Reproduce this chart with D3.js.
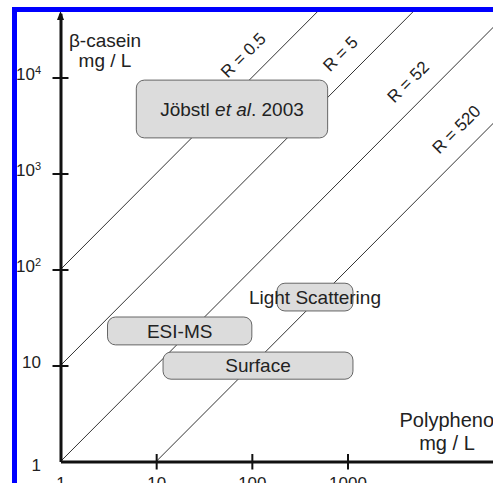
<!DOCTYPE html>
<html>
<head>
<meta charset="utf-8">
<script src="https://cdn.jsdelivr.net/npm/d3@7"></script>
<style>
  html, body { margin: 0; padding: 0; background: #fff; }
  svg { display: block; font-family: "Liberation Sans", Arial, Helvetica, sans-serif; }
</style>
</head>
<body>
<svg id="chart" width="493" height="483"></svg>
<script>
// ---- data ----
const polyTicks = [1, 10, 100, 1000];
const caseinTicks = [1, 10, 100, 1000, 10000];
const ratioLabels = ["R = 0.5", "R = 5", "R = 52", "R = 520"];
const caseinAtUnitPoly = [100, 10, 1, 0.1];      // casein (mg/L) where polyphenol = 1 mg/L
const ratioLabelPoly = [118, 1220, 6230, 19900];  // polyphenol value where each R label sits
const methods = ["Jöbstl et al. 2003", "ESI-MS", "Surface", "Light Scattering"];
const methodPolyMin = [6.2, 3.1, 11.8, 183];
const methodPolyMax = [620, 100, 1140, 1140];
const methodCaseinMin = [2350, 16.4, 7.2, 37];
const methodCaseinMax = [9400, 32, 13.8, 72];
const xTitle = ["Polyphenol", "mg / L"];
const yTitle = ["β-casein", "mg / L"];

// ---- layout ----
const svg = d3.select("#chart");
const x = d3.scaleLog().domain([1, Math.pow(10, 4.55)]).range([60.5, 495.8]);
const y = d3.scaleLog().domain([1, Math.pow(10, 4.67)]).range([461.5, 13.2]);
const lineColor = "#333";
const textColor = "#222";

svg.append("defs").append("clipPath").attr("id", "plotclip")
  .append("rect").attr("x", x(1)).attr("y", 12).attr("width", 493 - x(1)).attr("height", y(1) - 12);

// ratio lines
const ratioG = svg.append("g").attr("clip-path", "url(#plotclip)");
caseinAtUnitPoly.forEach((k, i) => {
  const x0 = k >= 1 ? 1 : 1 / k;
  const x1 = 1e6;
  ratioG.append("line")
    .attr("x1", x(x0)).attr("y1", y(k * x0))
    .attr("x2", x(x1)).attr("y2", y(k * x1))
    .attr("stroke", lineColor).attr("stroke-width", 1);
});

// ratio labels
ratioLabels.forEach((lab, i) => {
  const px = x(ratioLabelPoly[i]);
  const py = y(ratioLabelPoly[i] * caseinAtUnitPoly[i]);
  const off = 22 / Math.SQRT2;
  svg.append("text")
    .attr("transform", `translate(${px - off},${py - off}) rotate(-45)`)
    .attr("text-anchor", "middle")
    .attr("y", 6)
    .attr("font-size", 17)
    .attr("fill", textColor)
    .text(lab);
});

// method boxes
const fs = 19;
methods.forEach((m, i) => {
  const bx0 = x(methodPolyMin[i]), bx1 = x(methodPolyMax[i]);
  const by0 = y(methodCaseinMax[i]), by1 = y(methodCaseinMin[i]);
  svg.append("rect")
    .attr("x", bx0).attr("y", by0)
    .attr("width", bx1 - bx0).attr("height", by1 - by0)
    .attr("rx", 8).attr("ry", 8)
    .attr("fill", "#dcdcdc").attr("stroke", "#666").attr("stroke-width", 1);
  const t = svg.append("text")
    .attr("x", (bx0 + bx1) / 2)
    .attr("y", (by0 + by1) / 2 + 0.36 * fs)
    .attr("text-anchor", "middle")
    .attr("font-size", fs)
    .attr("fill", textColor);
  const idx = m.indexOf("et al.");
  if (idx >= 0) {
    t.append("tspan").text(m.slice(0, idx));
    t.append("tspan").attr("font-style", "italic").text("et al");
    t.append("tspan").text(m.slice(idx + 5));
  } else {
    t.text(m);
  }
});

// axes
const tfs = 17;
const gx = svg.append("g").attr("transform", `translate(0,${y(1)})`)
  .call(d3.axisBottom(x).tickValues(polyTicks).tickSize(0).tickSizeOuter(0).tickFormat(d3.format("d")));
gx.select(".domain").attr("stroke", "#111").attr("stroke-width", 3);
gx.selectAll(".tick line").attr("stroke", "#111").attr("stroke-width", 2)
  .attr("y1", -7.5).attr("y2", 8).attr("display", d => d === 1 ? "none" : null);
gx.selectAll(".tick text").attr("y", 27.5).attr("dy", null)
  .attr("font-size", tfs).attr("font-family", null).attr("fill", textColor);

const gy = svg.append("g").attr("transform", `translate(${x(1)},0)`)
  .call(d3.axisLeft(y).tickValues(caseinTicks).tickSize(0).tickSizeOuter(0));
gy.select(".domain").attr("stroke", "#111").attr("stroke-width", 3);
gy.selectAll(".tick line").attr("stroke", "#111").attr("stroke-width", 2)
  .attr("x1", -8).attr("x2", 8).attr("display", d => d === 1 ? "none" : null);
gy.selectAll(".tick text").each(function(d) {
  const t = d3.select(this);
  t.text(null).attr("dy", null).attr("x", -19.5)
    .attr("y", (d === 1 ? 3 : -4.5) + 0.36 * tfs)
    .attr("text-anchor", "end").attr("font-size", tfs).attr("font-family", null).attr("fill", textColor);
  const e = Math.round(Math.log10(d));
  if (e >= 2) {
    t.append("tspan").text("10");
    t.append("tspan").attr("font-size", 11).attr("dy", -6).text(String(e));
  } else {
    t.text(String(d));
  }
});

// arrow head on y axis
svg.append("path")
  .attr("d", `M${x(1)},11 L${x(1) - 3.5},20 L${x(1) + 3.5},20 Z`)
  .attr("fill", "#111");

// axis titles
const yt = svg.append("text").attr("text-anchor", "middle").attr("font-size", 19).attr("fill", textColor);
yt.append("tspan").attr("x", 105).attr("y", 47).text(yTitle[0]);
yt.append("tspan").attr("x", 105).attr("y", 67).text(yTitle[1]);
const xt = svg.append("text").attr("text-anchor", "middle").attr("font-size", 20).attr("fill", textColor);
xt.append("tspan").attr("x", 449).attr("y", 427).text(xTitle[0]);
xt.append("tspan").attr("x", 447).attr("y", 450).text(xTitle[1]);

// blue frame
svg.append("rect").attr("x", 12).attr("y", 7).attr("width", 493 - 12).attr("height", 5).attr("fill", "#0000ff");
svg.append("rect").attr("x", 12).attr("y", 7).attr("width", 5).attr("height", 483 - 7).attr("fill", "#0000ff");
</script>
</body>
</html>
